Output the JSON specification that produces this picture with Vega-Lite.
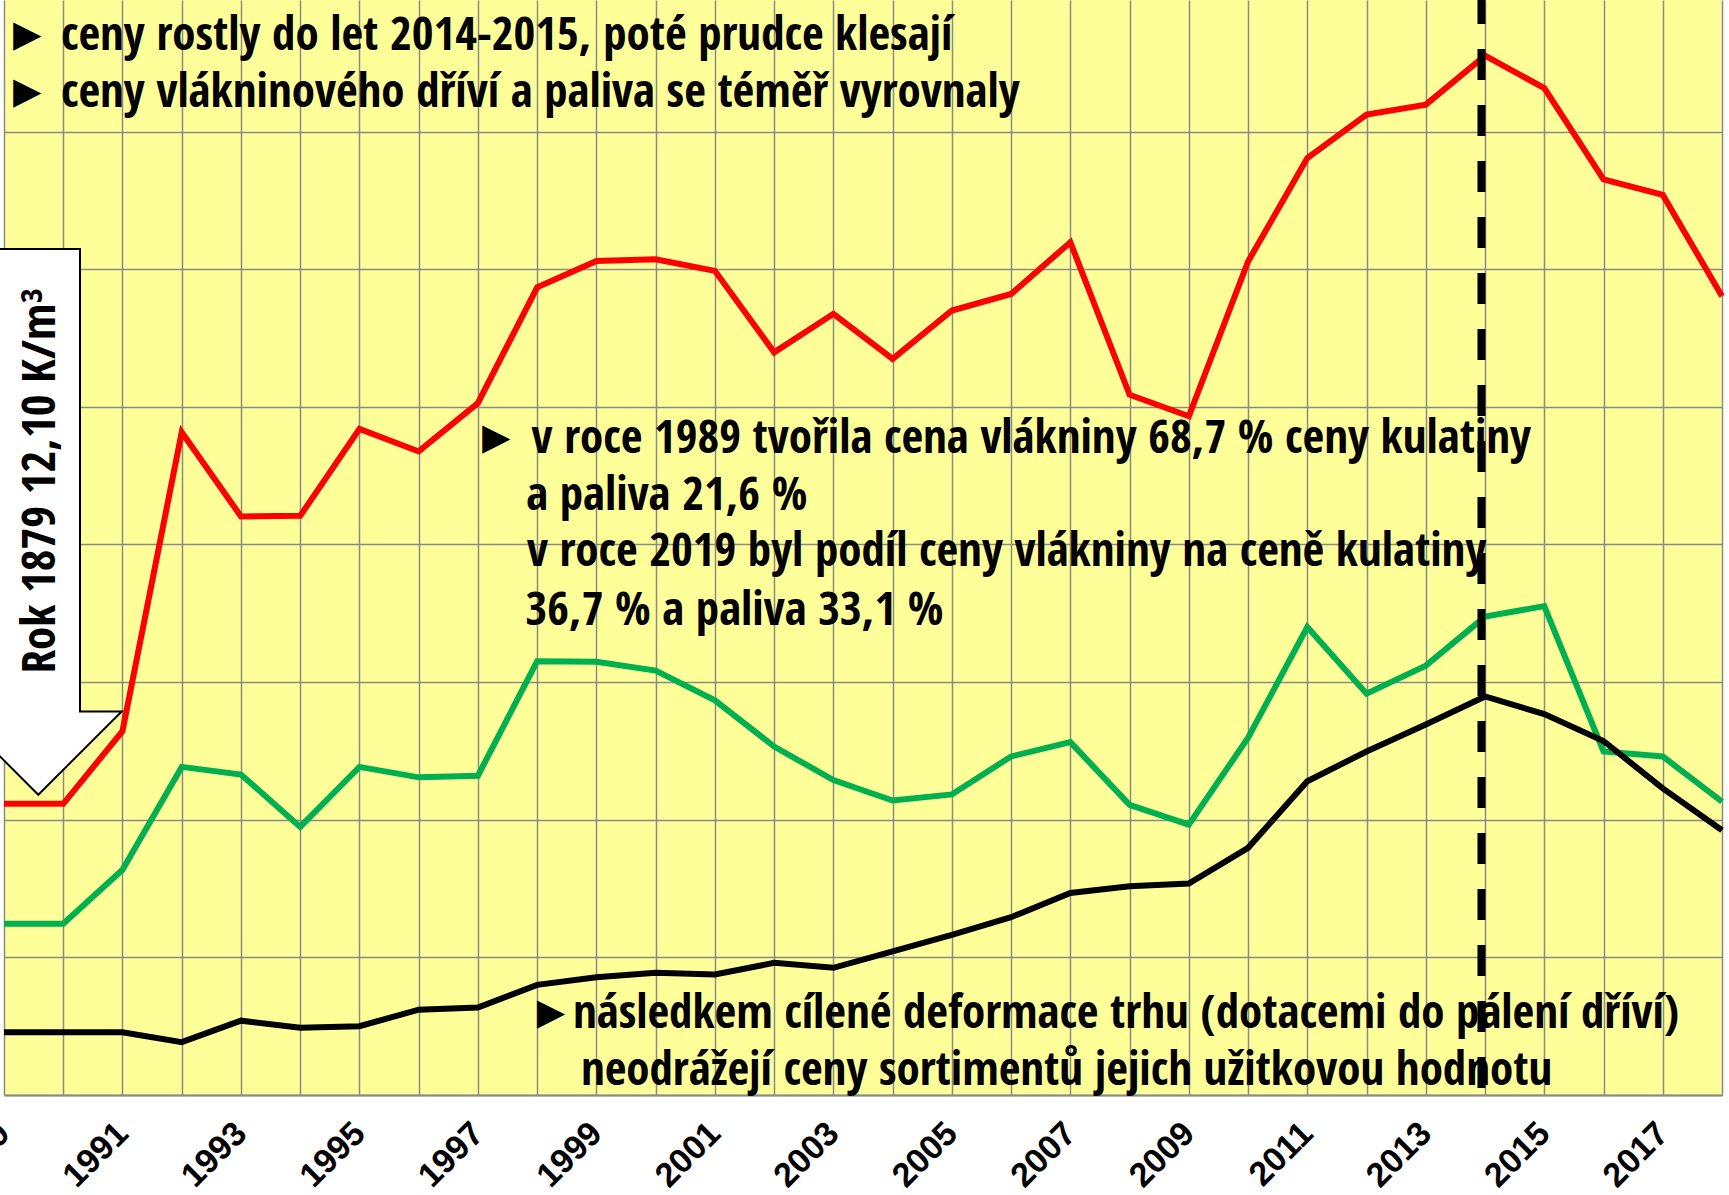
{
  "$schema": "https://vega.github.io/schema/vega-lite/v6.json",
  "width": 1718,
  "height": 1095,
  "autosize": {"type": "none"},
  "padding": {"left": 4, "top": 0, "right": 7, "bottom": 100},
  "background": "white",
  "config": {"view": {"fill": "#FFFF99", "stroke": null}},
  "datasets": {
    "prices": [
      {"year": 1989, "series": "kulatina", "value": 529},
      {"year": 1990, "series": "kulatina", "value": 529},
      {"year": 1991, "series": "kulatina", "value": 661},
      {"year": 1992, "series": "kulatina", "value": 1204},
      {"year": 1993, "series": "kulatina", "value": 1051},
      {"year": 1994, "series": "kulatina", "value": 1052},
      {"year": 1995, "series": "kulatina", "value": 1210},
      {"year": 1996, "series": "kulatina", "value": 1169},
      {"year": 1997, "series": "kulatina", "value": 1257},
      {"year": 1998, "series": "kulatina", "value": 1467},
      {"year": 1999, "series": "kulatina", "value": 1515},
      {"year": 2000, "series": "kulatina", "value": 1518},
      {"year": 2001, "series": "kulatina", "value": 1497},
      {"year": 2002, "series": "kulatina", "value": 1349},
      {"year": 2003, "series": "kulatina", "value": 1419},
      {"year": 2004, "series": "kulatina", "value": 1337},
      {"year": 2005, "series": "kulatina", "value": 1425},
      {"year": 2006, "series": "kulatina", "value": 1455},
      {"year": 2007, "series": "kulatina", "value": 1549},
      {"year": 2008, "series": "kulatina", "value": 1272},
      {"year": 2009, "series": "kulatina", "value": 1233},
      {"year": 2010, "series": "kulatina", "value": 1514},
      {"year": 2011, "series": "kulatina", "value": 1702},
      {"year": 2012, "series": "kulatina", "value": 1781},
      {"year": 2013, "series": "kulatina", "value": 1799},
      {"year": 2014, "series": "kulatina", "value": 1888},
      {"year": 2015, "series": "kulatina", "value": 1829},
      {"year": 2016, "series": "kulatina", "value": 1663},
      {"year": 2017, "series": "kulatina", "value": 1635},
      {"year": 2018, "series": "kulatina", "value": 1451},
      {"year": 1989, "series": "vláknina", "value": 311},
      {"year": 1990, "series": "vláknina", "value": 311},
      {"year": 1991, "series": "vláknina", "value": 409},
      {"year": 1992, "series": "vláknina", "value": 596},
      {"year": 1993, "series": "vláknina", "value": 582},
      {"year": 1994, "series": "vláknina", "value": 487},
      {"year": 1995, "series": "vláknina", "value": 596},
      {"year": 1996, "series": "vláknina", "value": 577},
      {"year": 1997, "series": "vláknina", "value": 580},
      {"year": 1998, "series": "vláknina", "value": 788},
      {"year": 1999, "series": "vláknina", "value": 787},
      {"year": 2000, "series": "vláknina", "value": 771},
      {"year": 2001, "series": "vláknina", "value": 717},
      {"year": 2002, "series": "vláknina", "value": 633},
      {"year": 2003, "series": "vláknina", "value": 572},
      {"year": 2004, "series": "vláknina", "value": 535},
      {"year": 2005, "series": "vláknina", "value": 546},
      {"year": 2006, "series": "vláknina", "value": 615},
      {"year": 2007, "series": "vláknina", "value": 641},
      {"year": 2008, "series": "vláknina", "value": 527},
      {"year": 2009, "series": "vláknina", "value": 491},
      {"year": 2010, "series": "vláknina", "value": 649},
      {"year": 2011, "series": "vláknina", "value": 850},
      {"year": 2012, "series": "vláknina", "value": 729},
      {"year": 2013, "series": "vláknina", "value": 780},
      {"year": 2014, "series": "vláknina", "value": 869},
      {"year": 2015, "series": "vláknina", "value": 888},
      {"year": 2016, "series": "vláknina", "value": 624},
      {"year": 2017, "series": "vláknina", "value": 615},
      {"year": 2018, "series": "vláknina", "value": 533},
      {"year": 1989, "series": "palivo", "value": 114},
      {"year": 1990, "series": "palivo", "value": 114},
      {"year": 1991, "series": "palivo", "value": 114},
      {"year": 1992, "series": "palivo", "value": 96},
      {"year": 1993, "series": "palivo", "value": 135},
      {"year": 1994, "series": "palivo", "value": 122},
      {"year": 1995, "series": "palivo", "value": 125},
      {"year": 1996, "series": "palivo", "value": 155},
      {"year": 1997, "series": "palivo", "value": 159},
      {"year": 1998, "series": "palivo", "value": 200},
      {"year": 1999, "series": "palivo", "value": 214},
      {"year": 2000, "series": "palivo", "value": 222},
      {"year": 2001, "series": "palivo", "value": 219},
      {"year": 2002, "series": "palivo", "value": 240},
      {"year": 2003, "series": "palivo", "value": 231},
      {"year": 2004, "series": "palivo", "value": 261},
      {"year": 2005, "series": "palivo", "value": 291},
      {"year": 2006, "series": "palivo", "value": 323},
      {"year": 2007, "series": "palivo", "value": 367},
      {"year": 2008, "series": "palivo", "value": 379},
      {"year": 2009, "series": "palivo", "value": 384},
      {"year": 2010, "series": "palivo", "value": 449},
      {"year": 2011, "series": "palivo", "value": 570},
      {"year": 2012, "series": "palivo", "value": 624},
      {"year": 2013, "series": "palivo", "value": 673},
      {"year": 2014, "series": "palivo", "value": 724},
      {"year": 2015, "series": "palivo", "value": 692},
      {"year": 2016, "series": "palivo", "value": 643},
      {"year": 2017, "series": "palivo", "value": 557},
      {"year": 2018, "series": "palivo", "value": 481}
    ],
    "arrow": [
      {"i": 0, "year": 1988.875, "value": 1536.5},
      {"i": 1, "year": 1990.283, "value": 1536.5},
      {"i": 2, "year": 1990.283, "value": 696.7},
      {"i": 3, "year": 1990.987, "value": 696.7},
      {"i": 4, "year": 1989.579, "value": 545.4},
      {"i": 5, "year": 1988.173, "value": 696.7},
      {"i": 6, "year": 1988.875, "value": 696.7},
      {"i": 7, "year": 1988.875, "value": 1536.5}
    ],
    "arrowLabel": [
      {"year": 1989.861, "value": 1116, "text": "Rok 1879 12,10 K/m³"}
    ],
    "bullets": [
      {"year": 1989.0, "value": 1898.5, "text": "►"},
      {"year": 1989.0, "value": 1795.5, "text": "►"},
      {"year": 1996.916, "value": 1166, "text": "►"},
      {"year": 1997.839, "value": 121.7, "text": "►"}
    ],
    "notes": [
      {"year": 1989.962, "value": 1898.5, "text": "ceny rostly do let 2014-2015, poté prudce klesají"},
      {"year": 1989.962, "value": 1795.5, "text": "ceny vlákninového dříví a paliva se téměř vyrovnaly"},
      {"year": 1997.906, "value": 1166, "text": "v roce 1989 tvořila cena vlákniny 68,7 % ceny kulatiny"},
      {"year": 1997.815, "value": 1063, "text": "a paliva 21,6 %"},
      {"year": 1997.827, "value": 960, "text": "v roce 2019 byl podíl ceny vlákniny na ceně kulatiny"},
      {"year": 1997.802, "value": 854, "text": "36,7 % a paliva 33,1 %"},
      {"year": 1998.603, "value": 121.7, "text": "následkem cílené deformace trhu (dotacemi do pálení dříví)"},
      {"year": 1998.738, "value": 18.7, "text": "neodrážejí ceny sortimentů jejich užitkovou hodnotu"}
    ],
    "marker": [
      {"year": 2013.94, "value": 1989, "value2": 0}
    ]
  },
  "encoding": {
    "x": {
      "field": "year",
      "type": "quantitative",
      "scale": {"domain": [1989, 2018], "nice": false, "zero": false, "padding": 0},
      "axis": {
        "title": null,
        "values": [1989,1990,1991,1992,1993,1994,1995,1996,1997,1998,1999,2000,2001,2002,2003,2004,2005,2006,2007,2008,2009,2010,2011,2012,2013,2014,2015,2016,2017,2018],
        "format": "d",
        "labelExpr": "datum.value % 2 == 1 ? datum.label : ''",
        "grid": true,
        "gridColor": "#8a8a8a",
        "gridWidth": 1.5,
        "gridOpacity": 1,
        "ticks": false,
        "tickSize": 0,
        "domain": true,
        "domainColor": "#8a8a8a",
        "domainWidth": 2,
        "labelAngle": -45,
        "labelAlign": "right",
        "labelBaseline": "middle",
        "labelPadding": 33,
        "labelFont": "Liberation Sans",
        "labelFontWeight": "bold",
        "labelFontSize": 34,
        "labelColor": "black",
        "labelOverlap": false,
        "labelBound": false,
        "labelFlush": false
      }
    },
    "y": {
      "field": "value",
      "type": "quantitative",
      "scale": {"domain": [0, 1989], "nice": false, "zero": true},
      "axis": {
        "title": null,
        "values": [0, 250, 500, 750, 1000, 1250, 1500, 1750],
        "grid": true,
        "gridColor": "#8a8a8a",
        "gridWidth": 1.5,
        "gridOpacity": 1,
        "labels": false,
        "ticks": false,
        "domain": false
      }
    }
  },
  "layer": [
    {
      "data": {"name": "arrow"},
      "mark": {"type": "line", "fill": "white", "stroke": "black", "strokeWidth": 2, "clip": false, "strokeJoin": "miter"},
      "encoding": {"order": {"field": "i", "type": "quantitative"}}
    },
    {
      "data": {"name": "prices"},
      "mark": {"type": "line", "strokeWidth": 6, "strokeJoin": "miter"},
      "encoding": {
        "color": {
          "field": "series",
          "type": "nominal",
          "scale": {"domain": ["kulatina", "vláknina", "palivo"], "range": ["#FF0000", "#00B050", "#000000"]},
          "legend": null
        }
      }
    },
    {
      "data": {"name": "arrowLabel"},
      "mark": {"type": "text", "angle": 270, "align": "center", "baseline": "alphabetic", "font": "Liberation Sans Narrow, Noto Sans Condensed, Open Sans Condensed, DejaVu Sans Condensed, Liberation Sans", "fontWeight": "bold", "fontSize": 47, "color": "black", "clip": false},
      "encoding": {"text": {"field": "text"}}
    },
    {
      "data": {"name": "bullets"},
      "mark": {"type": "text", "align": "left", "baseline": "alphabetic", "font": "Liberation Sans, Arial, sans-serif", "fontSize": 47, "color": "black"},
      "encoding": {"text": {"field": "text"}}
    },
    {
      "data": {"name": "notes"},
      "mark": {"type": "text", "align": "left", "baseline": "alphabetic", "font": "Liberation Sans Narrow, Noto Sans Condensed, Open Sans Condensed, DejaVu Sans Condensed, Liberation Sans", "fontWeight": "bold", "fontSize": 47, "color": "black"},
      "encoding": {"text": {"field": "text"}}
    },
    {
      "data": {"name": "marker"},
      "mark": {"type": "rule", "color": "black", "strokeWidth": 8, "strokeDash": [31, 25], "strokeDashOffset": 7},
      "encoding": {"y2": {"field": "value2"}}
    }
  ]
}
